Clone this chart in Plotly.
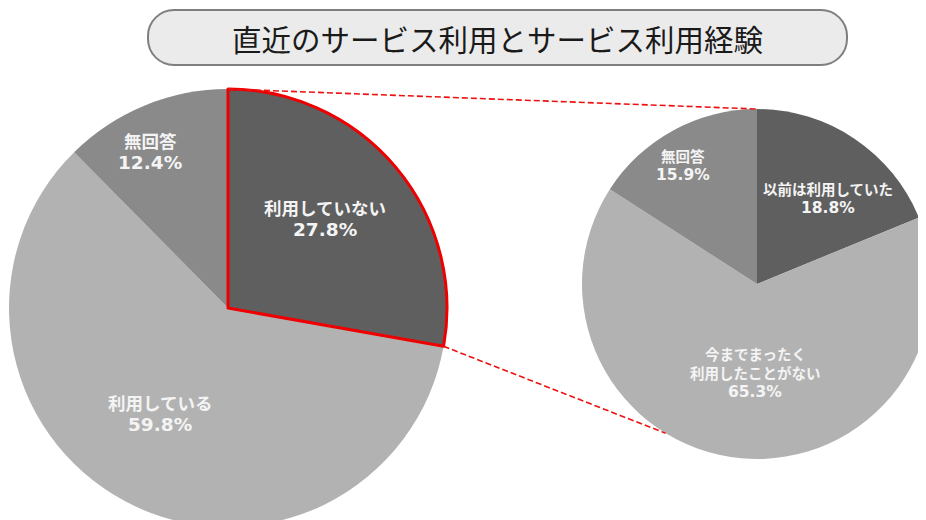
import math
import plotly.graph_objects as go

# ---------------- data ----------------
title_text = "直近のサービス利用とサービス利用経験"

left_labels = ["利用していない", "利用している", "無回答"]
left_values = [27.8, 59.8, 12.4]
left_colors = ["#5f5f5f", "#b2b2b2", "#8a8a8a"]

right_labels = ["以前は利用していた", "今までまったく\n利用したことがない", "無回答"]
right_values = [18.8, 65.3, 15.9]
right_colors = ["#5f5f5f", "#b2b2b2", "#8a8a8a"]

# ---------------- geometry (screen pixels) ----------------
W, H = 926, 520
OFF = 8  # page body margin
L_cx, L_cy, L_r = 228, 308, 219
R_cx, R_cy, R_r = 757, 284, 175


def dom(cx, cy, r):
    cx -= OFF
    cy -= OFF
    return dict(x=[(cx - r) / W, (cx + r) / W],
                y=[1 - (cy + r) / H, 1 - (cy - r) / H])


fig = go.Figure()

# left pie: reorder so the highlighted slice is drawn last (outline on top)
order = [1, 2, 0]
lv = [left_values[i] for i in order]
ll = [left_labels[i] for i in order]
lc = [left_colors[i] for i in order]
rot = left_values[0] / sum(left_values) * 360
fig.add_trace(go.Pie(
    values=lv, labels=ll, sort=False, direction="clockwise", rotation=rot,
    domain=dom(L_cx, L_cy, L_r), textinfo="none", hoverinfo="skip",
    marker=dict(colors=lc, line=dict(color=["rgba(0,0,0,0)"] * 2 + ["#ee0000"],
                                     width=[0, 0, 3])),
    showlegend=False))

fig.add_trace(go.Pie(
    values=right_values, labels=right_labels, sort=False, direction="clockwise",
    rotation=0, domain=dom(R_cx, R_cy, R_r), textinfo="none", hoverinfo="skip",
    marker=dict(colors=right_colors, line=dict(width=0)),
    showlegend=False))

# ---------------- shapes ----------------
shapes = []
# title pill box
x0, x1, y0, y1, r = 148, 847, 10, 65, 26
k = 0.5523 * r
path = (f"M{x0+r},{y0} L{x1-r},{y0} "
        f"C{x1-r+k},{y0} {x1},{y0+r-k} {x1},{y0+r} "
        f"L{x1},{y1-r} C{x1},{y1-r+k} {x1-r+k},{y1} {x1-r},{y1} "
        f"L{x0+r},{y1} C{x0+r-k},{y1} {x0},{y1-r+k} {x0},{y1-r} "
        f"L{x0},{y0+r} C{x0},{y0+r-k} {x0+r-k},{y0} {x0+r},{y0} Z")
shapes.append(dict(type="path", xref="x", yref="y", path=path,
                   fillcolor="#ebebeb", line=dict(color="#7f7f7f", width=2)))

# dashed connector lines computed from pie geometry
a_end = math.radians(rot)
p1 = (L_cx, L_cy - L_r)
q1 = (R_cx, R_cy - R_r)
p2 = (L_cx + L_r * math.sin(a_end), L_cy - L_r * math.cos(a_end))
a_r = math.radians(211.5)
q2 = (R_cx + R_r * math.sin(a_r), R_cy - R_r * math.cos(a_r))
for (a, b) in [(p1, q1), (p2, q2)]:
    shapes.append(dict(type="line", xref="x", yref="y", x0=a[0], y0=a[1],
                       x1=b[0], y1=b[1],
                       line=dict(color="#ee1111", width=1.6, dash="6px,3px")))

# ---------------- annotations ----------------
ann = []
ann.append(dict(x=497, y=38, text=title_text, showarrow=False, xref="x", yref="y",
                font=dict(family="Noto Sans CJK JP", size=29.5, color="#1a1a1a")))

CJK = "Noto Sans CJK JP"
NUM = "DejaVu Sans"
TXT = "#f4f4f4"


def label(x, y, lines, pct, jsize, nsize, gap):
    yy = y
    for ln in lines:
        ann.append(dict(x=x, y=yy, text=f"<b>{ln}</b>", showarrow=False,
                        xref="x", yref="y",
                        font=dict(family=CJK, size=jsize, color=TXT)))
        yy += gap
    ann.append(dict(x=x, y=yy, text=f"<b>{pct}%</b>", showarrow=False,
                    xref="x", yref="y",
                    font=dict(family=NUM, size=nsize, color=TXT)))


left_pos = [(325, 207), (160, 402), (150, 140)]
for (x, y), lab, v in zip(left_pos, left_labels, left_values):
    label(x, y, lab.split("\n"), v, 17.5, 18.5, 22)

right_pos = [(828, 188), (755, 353), (683, 155)]
for (x, y), lab, v in zip(right_pos, right_labels, right_values):
    label(x, y, lab.split("\n"), v, 14.5, 15.5, 19.5)

fig.update_layout(
    width=W, height=H, margin=dict(l=0, r=0, t=0, b=0),
    paper_bgcolor="white", plot_bgcolor="white",
    xaxis=dict(range=[OFF, W + OFF], visible=False, fixedrange=True),
    yaxis=dict(range=[H + OFF, OFF], visible=False, fixedrange=True),
    shapes=shapes, annotations=ann, showlegend=False,
)

fig.write_html("out.html")
